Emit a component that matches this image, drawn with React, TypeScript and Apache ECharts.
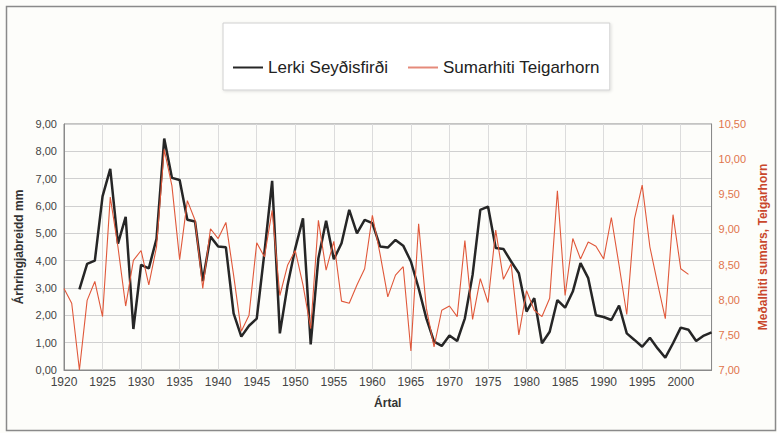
import React, { useEffect, useRef } from "react";
import * as echarts from "echarts";

const years: string[] = [
  "1920","1921","1922","1923","1924","1925","1926","1927","1928","1929",
  "1930","1931","1932","1933","1934","1935","1936","1937","1938","1939",
  "1940","1941","1942","1943","1944","1945","1946","1947","1948","1949",
  "1950","1951","1952","1953","1954","1955","1956","1957","1958","1959",
  "1960","1961","1962","1963","1964","1965","1966","1967","1968","1969",
  "1970","1971","1972","1973","1974","1975","1976","1977","1978","1979",
  "1980","1981","1982","1983","1984","1985","1986","1987","1988","1989",
  "1990","1991","1992","1993","1994","1995","1996","1997","1998","1999",
  "2000","2001","2002","2003","2004",
];

// Lerki Seyðisfirði (ring width, mm), 1920–2004 (no data 1920–1921)
const lerki: (number | null)[] = [
  null, null, 2.95, 3.88, 4.0, 6.35, 7.36, 4.62, 5.6, 1.5,
  3.85, 3.72, 4.8, 8.47, 7.03, 6.95, 5.5, 5.43, 3.25, 4.88,
  4.52, 4.49, 2.07, 1.22, 1.62, 1.88, 4.3, 6.92, 1.34, 3.1,
  4.45, 5.55, 0.94, 4.09, 5.46, 4.05, 4.64, 5.86, 5.0, 5.49,
  5.37, 4.52, 4.48, 4.76, 4.55, 3.97, 2.99, 1.89, 1.04, 0.88,
  1.26, 1.06, 1.89, 3.48, 5.86, 5.98, 4.46, 4.43, 3.97, 3.54,
  2.14, 2.63, 0.98, 1.4, 2.56, 2.28, 2.87, 3.91, 3.36, 2.0,
  1.94, 1.83, 2.36, 1.34, 1.1, 0.85, 1.18, 0.79, 0.45, 0.98,
  1.55, 1.47, 1.06, 1.26, 1.38,
];

// Sumarhiti Teigarhorn (mean summer temperature), 1920–2001
const sumarhiti: number[] = [
  8.16, 7.95, 7.0, 7.99, 8.26, 7.76, 9.46, 8.75, 7.91, 8.56,
  8.7, 8.21, 8.75, 10.14, 9.62, 8.57, 9.41, 9.13, 8.16, 9.01,
  8.87, 9.1, 8.35, 7.55, 7.78, 8.81, 8.61, 9.27, 8.06, 8.49,
  8.7, 8.21, 7.59, 9.13, 8.42, 8.83, 7.98, 7.95, 8.21, 8.44,
  9.2, 8.65, 8.04, 8.35, 8.47, 7.27, 9.08, 7.88, 7.33, 7.85,
  7.91, 7.76, 8.84, 7.72, 8.3, 7.96, 8.99, 8.29, 8.51, 7.5,
  8.13, 7.85, 7.76, 8.02, 9.55, 8.06, 8.87, 8.58, 8.82, 8.76,
  8.58, 9.17, 8.49, 7.79, 9.15, 9.63, 8.75, 8.23, 7.73, 9.21,
  8.44, 8.36,
];

const seriesNames = ["Lerki Seyðisfirði", "Sumarhiti Teigarhorn"];

const fmt = (v: number) => v.toFixed(2).replace(".", ",");

export default function App() {
  const ref = useRef<HTMLDivElement>(null);
  useEffect(() => {
    if (!ref.current) return;
    const chart = echarts.init(ref.current, null, { renderer: "svg" });
    const font = "'Liberation Sans', Arial, sans-serif";
    chart.setOption({
      animation: false,
      backgroundColor: "#fdfdfa",
      textStyle: { fontFamily: font },
      graphic: [
        {
          type: "rect",
          shape: { x: 6.5, y: 6.5, width: 769, height: 424 },
          style: { fill: "none", stroke: "#8a8a8a", lineWidth: 1.5 },
          silent: true,
        },
      ],
      legend: {
        left: 223,
        top: 23,
        data: [
          { name: seriesNames[0], icon: "rect", itemStyle: { color: "#262626" } },
          { name: seriesNames[1], icon: "rect", itemStyle: { color: "#e58a7a" } },
        ],
        itemWidth: 30,
        itemHeight: 2,
        itemGap: 20,
        padding: [36, 10, 14, 10],
        borderColor: "#d0d0d0",
        borderWidth: 1,
        backgroundColor: "#ffffff",
        shadowColor: "rgba(0,0,0,0.12)",
        shadowBlur: 3,
        shadowOffsetX: 1,
        shadowOffsetY: 1,
        textStyle: { fontSize: 17, color: "#222", fontFamily: font },
      },
      grid: {
        left: 64,
        right: 65,
        top: 124,
        bottom: 63,
        show: true,
        borderColor: "#8a8a8a",
        borderWidth: 1,
        backgroundColor: "transparent",
      },
      xAxis: {
        type: "category",
        data: years,
        boundaryGap: false,
        name: "Ártal",
        nameLocation: "middle",
        nameGap: 27,
        nameTextStyle: { fontSize: 12, fontWeight: "bold", color: "#333" },
        axisLine: { lineStyle: { color: "#8a8a8a" } },
        axisTick: { show: false },
        axisLabel: {
          interval: 4,
          fontSize: 12,
          color: "#444",
          margin: 6,
        },
        splitLine: {
          show: true,
          interval: 4,
          lineStyle: { color: "#dcdcdc", width: 1 },
        },
      },
      yAxis: [
        {
          type: "value",
          min: 0,
          max: 9,
          interval: 1,
          name: "Árhringjabreidd mm",
          nameLocation: "middle",
          nameRotate: 90,
          nameGap: 34,
          nameTextStyle: { fontSize: 12, fontWeight: "bold", color: "#333" },
          axisLine: { show: true, lineStyle: { color: "#8a8a8a" } },
          axisTick: { show: false },
          axisLabel: { fontSize: 11, color: "#444", margin: 7, formatter: fmt },
          splitLine: { show: true, lineStyle: { color: "#d0d0d0", width: 1 } },
        },
        {
          type: "value",
          min: 7,
          max: 10.5,
          interval: 0.5,
          position: "right",
          name: "Meðalhiti sumars, Teigarhorn",
          nameLocation: "middle",
          nameRotate: 90,
          nameGap: 43,
          nameTextStyle: { fontSize: 12, fontWeight: "bold", color: "#c9472c" },
          axisLine: { show: true, lineStyle: { color: "#8a8a8a" } },
          axisTick: { show: false },
          axisLabel: { fontSize: 11, color: "#e0744c", margin: 7, formatter: fmt },
          splitLine: { show: false },
        },
      ],
      series: [
        {
          name: seriesNames[0],
          type: "line",
          yAxisIndex: 0,
          data: lerki,
          symbol: "none",
          connectNulls: false,
          lineStyle: { color: "#262626", width: 2.5 },
          itemStyle: { color: "#262626" },
          z: 3,
        },
        {
          name: seriesNames[1],
          type: "line",
          yAxisIndex: 1,
          data: sumarhiti,
          symbol: "none",
          lineStyle: { color: "#e0583a", width: 1.1 },
          itemStyle: { color: "#e0583a" },
          z: 4,
        },
      ],
    });
    return () => chart.dispose();
  }, []);
  return (
    <div
      ref={ref}
      style={{ position: "absolute", left: 0, top: 0, width: 777, height: 433 }}
    />
  );
}
